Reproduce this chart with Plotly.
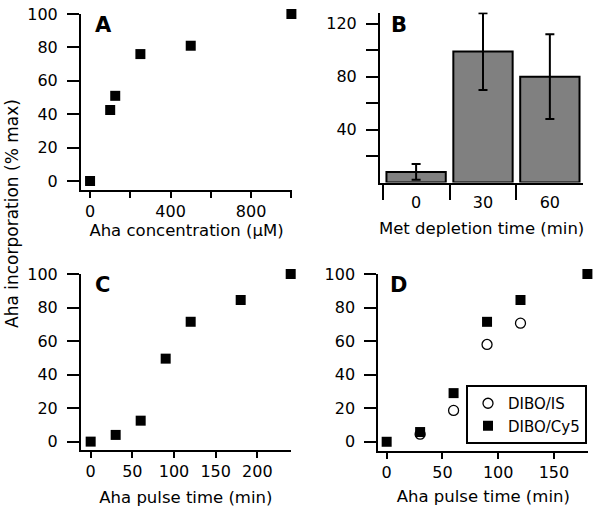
import plotly.graph_objects as go

# Panel A: Aha concentration series
conc_um = [0, 100, 125, 250, 500, 1000]
conc_incorp = [0, 42.5, 51, 76, 81, 100]

# Panel B: Met depletion time bars
met_time = ['0', '30', '60']
met_incorp = [8, 99, 80]
met_err = [6, 29, 32]

# Panel C: Aha pulse time
pulse_c = [0, 30, 60, 90, 120, 180, 240]
pulse_c_incorp = [0, 4, 12.5, 49.5, 71.5, 84.5, 100]

# Panel D: two detection methods (IS points at 0 and 180 sit under the Cy5 squares)
pulse_d_is = [30, 60, 90, 120]
dibo_is = [4.5, 18.7, 58, 70.7]
pulse_d_cy5 = [0, 30, 60, 90, 120, 180]
dibo_cy5 = [0, 5.8, 29, 71.5, 84.5, 100]

W, H = 600, 514
FONT = 'DejaVu Sans, sans-serif'


def px_x(a, b):
    return [a / W, b / W]


def px_y(top, bottom):
    return [1 - bottom / H, 1 - top / H]


fig = go.Figure()

sq = dict(symbol='square', size=10, color='black')

fig.add_trace(go.Scatter(x=conc_um, y=conc_incorp, mode='markers', marker=sq,
                         showlegend=False, cliponaxis=False, xaxis='x', yaxis='y'))

fig.add_trace(go.Bar(x=met_time, y=met_incorp, showlegend=False,
                     marker=dict(color='#808080', line=dict(color='black', width=2)),
                     error_y=dict(type='data', array=met_err, color='black',
                                  thickness=2, width=4.5),
                     cliponaxis=False, xaxis='x2', yaxis='y2'))

fig.add_trace(go.Scatter(x=pulse_c, y=pulse_c_incorp, mode='markers', marker=sq,
                         showlegend=False, cliponaxis=False, xaxis='x3', yaxis='y3'))

fig.add_trace(go.Scatter(x=pulse_d_is, y=dibo_is, mode='markers', name='DIBO/IS',
                         marker=dict(symbol='circle', size=10, color='white',
                                     line=dict(color='black', width=1.3)),
                         cliponaxis=False, xaxis='x4', yaxis='y4'))
fig.add_trace(go.Scatter(x=pulse_d_cy5, y=dibo_cy5, mode='markers', name='DIBO/Cy5',
                         marker=sq, cliponaxis=False, xaxis='x4', yaxis='y4'))

ax_common = dict(showline=True, linecolor='black', linewidth=2, ticks='outside',
                 tickwidth=2, tickcolor='black', showgrid=False, zeroline=False,
                 automargin=False,
                 tickfont=dict(size=16, color='black'),
                 title_font=dict(size=16.5, color='black'))

fig.update_layout(
    width=W, height=H,
    margin=dict(l=0, r=0, t=0, b=0),
    paper_bgcolor='white', plot_bgcolor='white',
    font=dict(family=FONT, color='black'),
    bargap=0.113,
    xaxis=dict(ax_common, domain=px_x(81, 292), range=[-45, 1003], anchor='y',
               tickvals=[0, 200, 400, 600, 800, 1000],
               ticktext=['0', '', '400', '', '800', ''], ticklen=6,
               title=dict(text='Aha concentration (µM)', standoff=3)),
    yaxis=dict(ax_common, domain=px_y(14, 190), range=[-5.4, 100], anchor='x',
               tickvals=[0, 20, 40, 60, 80, 100], ticklen=12, ticklabelstandoff=6),
    xaxis2=dict(ax_common, domain=px_x(380, 583.3), range=[-0.54, 2.5], anchor='y2',
                type='category', tickson='boundaries', ticklen=15,
                ticklabelstandoff=4,
                title=dict(text='Met depletion time (min)', standoff=12)),
    yaxis2=dict(ax_common, domain=px_y(12.5, 182.5), range=[0, 128.5], anchor='x2',
                tickvals=[20, 40, 60, 80, 100, 120],
                ticktext=['', '40', '', '80', '', '120'], ticklen=12,
                ticklabelstandoff=6),
    xaxis3=dict(ax_common, domain=px_x(81, 290.7), range=[-11.6, 240], anchor='y3',
                tickvals=[0, 50, 100, 150, 200], ticklen=6,
                title=dict(text='Aha pulse time (min)', standoff=11)),
    yaxis3=dict(ax_common, domain=px_y(274, 450), range=[-5, 100], anchor='x3',
                tickvals=[0, 20, 40, 60, 80, 100], ticklen=12, ticklabelstandoff=6),
    xaxis4=dict(ax_common, domain=px_x(378.3, 588.3), range=[-7.5, 180.8], anchor='y4',
                tickvals=[0, 50, 100, 150], ticklen=6,
                title=dict(text='Aha pulse time (min)', standoff=9)),
    yaxis4=dict(ax_common, domain=px_y(274, 451), range=[-5.5, 100], anchor='x4',
                tickvals=[0, 20, 40, 60, 80, 100], ticklen=12, ticklabelstandoff=6),
    legend=dict(x=466 / W, y=1 - 385 / H, xanchor='left', yanchor='top',
                bordercolor='black', borderwidth=2, bgcolor='white',
                font=dict(size=15, color='black')),
)

# panel letters
for letter, lx, ly in [('A', 93, 24.5), ('B', 389, 25), ('C', 93, 284.7), ('D', 388.3, 284.5)]:
    fig.add_annotation(text='<b>%s</b>' % letter, x=lx / W, y=1 - ly / H,
                       xref='paper', yref='paper', xanchor='left', yanchor='middle',
                       showarrow=False, font=dict(size=21, color='black'))

# shared y-axis title
fig.add_annotation(text='Aha incorporation (% max)', x=12 / W, y=1 - 214 / H,
                   xref='paper', yref='paper', textangle=-90, showarrow=False,
                   xanchor='center', yanchor='middle',
                   font=dict(size=17, color='black'))

fig.write_html('out.html', config={'displayModeBar': False},
               post_script="document.body.style.margin='0';document.body.style.overflow='hidden';")
